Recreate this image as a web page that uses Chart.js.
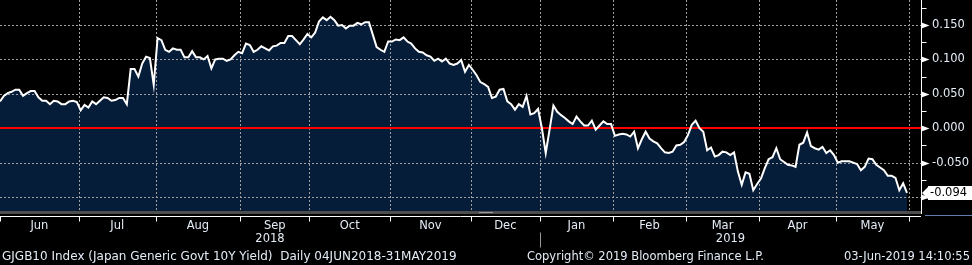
<!DOCTYPE html>
<html lang="en">
<head>
  <meta charset="UTF-8" />
  <title>GJGB10 Index - Japan Generic Govt 10Y Yield</title>
  <script src="https://cdn.jsdelivr.net/npm/chart.js"></script>
  <style>
    html, body { margin: 0; padding: 0; background: #000; }
    canvas { display: block; }
  </style>
</head>
<body>

<canvas id="yieldChart" width="972" height="265"></canvas>

<script>
// month labels along the bottom, one array of daily closes per month
const monthLabels = ['Jun', 'Jul', 'Aug', 'Sep', 'Oct', 'Nov', 'Dec', 'Jan', 'Feb', 'Mar', 'Apr', 'May'];
const yearLabels = ['2018', '2019'];
const yearFirstMonth = [0, 7];

const jun18 = [0.039, 0.047, 0.051, 0.053, 0.056, 0.056, 0.047, 0.051, 0.054, 0.054, 0.045, 0.040, 0.040, 0.035, 0.040, 0.039, 0.035, 0.035, 0.039, 0.040, 0.038];
const jul18 = [0.026, 0.034, 0.030, 0.039, 0.035, 0.040, 0.045, 0.044, 0.040, 0.041, 0.044, 0.044, 0.035, 0.086, 0.086, 0.075, 0.094, 0.104, 0.102, 0.063];
const aug18 = [0.131, 0.128, 0.114, 0.111, 0.116, 0.114, 0.114, 0.103, 0.103, 0.112, 0.103, 0.103, 0.100, 0.105, 0.087, 0.100, 0.101, 0.101, 0.098, 0.100, 0.106, 0.111];
const sep18 = [0.109, 0.123, 0.121, 0.111, 0.114, 0.119, 0.116, 0.113, 0.119, 0.120, 0.124, 0.124, 0.134, 0.134, 0.128, 0.122, 0.129, 0.137];
const oct18 = [0.132, 0.139, 0.155, 0.161, 0.157, 0.162, 0.157, 0.149, 0.150, 0.145, 0.149, 0.149, 0.153, 0.151, 0.154, 0.154, 0.136, 0.118, 0.114, 0.111, 0.126];
const nov18 = [0.126, 0.129, 0.128, 0.132, 0.126, 0.123, 0.116, 0.111, 0.110, 0.106, 0.104, 0.098, 0.101, 0.097, 0.101, 0.094, 0.092, 0.094, 0.099, 0.082, 0.092];
const dec18 = [0.085, 0.077, 0.067, 0.064, 0.060, 0.044, 0.046, 0.056, 0.057, 0.039, 0.035, 0.027, 0.035, 0.031, 0.047, 0.020, 0.022, 0.028];
const jan19 = [0.000, -0.036, -0.002, 0.033, 0.024, 0.019, 0.015, 0.010, 0.006, 0.017, 0.010, 0.004, 0.004, 0.011, -0.002, 0.004, 0.010, 0.006, 0.006];
const feb19 = [-0.011, -0.009, -0.008, -0.009, -0.012, -0.005, -0.029, -0.016, -0.005, -0.015, -0.019, -0.022, -0.029, -0.035, -0.036, -0.034, -0.025, -0.024, -0.020];
const mar19 = [-0.010, 0.005, 0.011, 0.000, -0.005, -0.032, -0.028, -0.041, -0.039, -0.034, -0.035, -0.039, -0.035, -0.063, -0.082, -0.064, -0.066, -0.090, -0.081];
const apr19 = [-0.073, -0.058, -0.045, -0.042, -0.029, -0.045, -0.049, -0.053, -0.054, -0.056, -0.024, -0.021, -0.006, -0.026, -0.029, -0.031, -0.027, -0.036, -0.032, -0.039];
const may19 = [-0.050, -0.048, -0.048, -0.048, -0.050, -0.052, -0.061, -0.056, -0.044, -0.045, -0.053, -0.057, -0.061, -0.069, -0.069, -0.072, -0.090, -0.080, -0.094];

const yTicks = [-0.1, -0.05, 0, 0.05, 0.1, 0.15];
const yMinorTicks = [-0.075, -0.025, 0.025, 0.075, 0.125, 0.175];

const footerLeft = 'GJGB10 Index (Japan Generic Govt 10Y Yield)  Daily 04JUN2018-31MAY2019';
const footerMid = 'Copyright\u00A9 2019 Bloomberg Finance L.P.';
const footerRight = '03-Jun-2019 14:10:55';

const monthData = [jun18, jul18, aug18, sep18, oct18, nov18, dec18, jan19, feb19, mar19, apr19, may19];
const yields = monthData.flat();
const lastYield = yields[yields.length - 1];

// trading-day index where each month starts / ends (grid line between days)
const boundaries = [-0.5];
monthData.forEach(m => boundaries.push(boundaries[boundaries.length - 1] + m.length));

const FONT = '"DejaVu Sans", Verdana, sans-serif';
const TEXT = '#e4ecf6';
const GRID = '#a0a0a0';

function line(ctx, x1, y1, x2, y2) {
  ctx.beginPath();
  ctx.moveTo(x1, y1);
  ctx.lineTo(x2, y2);
  ctx.stroke();
}

// dotted grid drawn as 2px-on / 2px-off pixels
function dotsH(ctx, x1, x2, py) {
  for (let px = x1; px < x2; px += 4) ctx.fillRect(px, py, 2, 1);
}
function dotsV(ctx, px, y1, y2) {
  for (let py = y1; py < y2; py += 4) ctx.fillRect(px, py, 1, 2);
}

const bloombergDecor = {
  id: 'bloombergDecor',
  beforeDraw(chart) {
    const { ctx, width, height } = chart;
    ctx.save();
    ctx.fillStyle = '#000';
    ctx.fillRect(0, 0, width, height);
    ctx.restore();
  },
  beforeDatasetsDraw(chart) {
    const { ctx, chartArea: a, scales: { x, y } } = chart;
    ctx.save();
    ctx.fillStyle = GRID;
    yTicks.forEach(v => {
      if (v === 0) return;
      dotsH(ctx, Math.round(a.left), Math.round(a.right), Math.round(y.getPixelForValue(v)));
    });
    boundaries.forEach(b => {
      const px = Math.round(x.getPixelForValue(b));
      if (px <= a.left + 2 || px >= a.right - 2) return;
      dotsV(ctx, px, Math.round(a.top), Math.round(a.bottom));
    });
    ctx.strokeStyle = '#ff0000';
    ctx.lineWidth = 2;
    const z = Math.round(y.getPixelForValue(0));
    line(ctx, a.left, z, a.right, z);
    ctx.restore();
  },
  afterDraw(chart) {
    const { ctx, chartArea: a, scales: { x, y } } = chart;
    ctx.save();

    // scroll bar + x axis line
    ctx.fillStyle = '#4d4d4d';
    ctx.fillRect(a.left, a.bottom, a.right - a.left, 3);
    ctx.fillStyle = '#9a9a9a';
    ctx.fillRect(479, a.bottom + 1, 14, 1);
    ctx.strokeStyle = '#ffffff';
    ctx.lineWidth = 1;
    const axisY = a.bottom + 5.5;
    line(ctx, a.left, axisY, a.right, axisY);
    ctx.strokeStyle = '#5f7fae';
    line(ctx, a.right + 4, axisY - 1, chart.width, axisY - 1);

    // month ticks and labels
    ctx.strokeStyle = '#ffffff';
    boundaries.forEach(b => {
      const px = Math.max(a.left + 0.5, Math.round(x.getPixelForValue(b)) + 0.5);
      line(ctx, px, axisY, px, axisY + 5);
    });
    const janPx = Math.round(x.getPixelForValue(boundaries[yearFirstMonth[1]])) + 0.5;
    ctx.strokeStyle = '#9a9a9a';
    line(ctx, janPx, axisY + 16, janPx, axisY + 31);

    ctx.fillStyle = TEXT;
    ctx.font = '11.5px ' + FONT;
    ctx.textAlign = 'center';
    ctx.textBaseline = 'middle';
    monthLabels.forEach((m, i) => {
      const l = Math.max(a.left, x.getPixelForValue(boundaries[i]));
      const r = x.getPixelForValue(boundaries[i + 1]);
      ctx.fillText(m, (l + r) / 2, 226);
    });
    yearLabels.forEach((t, i) => {
      const l = i === 0 ? a.left : x.getPixelForValue(boundaries[yearFirstMonth[i]]);
      const r = i + 1 < yearLabels.length ? x.getPixelForValue(boundaries[yearFirstMonth[i + 1]]) : a.right;
      ctx.fillText(t, (l + r) / 2, 239);
    });

    // footer
    ctx.textAlign = 'left';
    ctx.fillText(footerMid, 527, 257);
    ctx.textAlign = 'right';
    ctx.fillText(footerRight, 970, 257);
    ctx.textAlign = 'left';
    ctx.font = '12px ' + FONT;
    ctx.fillText(footerLeft, 2, 257);

    // y axis line, major markers, minor ticks
    ctx.strokeStyle = '#ffffff';
    const axX = a.right + 0.5;
    line(ctx, axX, a.top, axX, a.bottom + 3);
    ctx.fillStyle = '#ffffff';
    yTicks.forEach(v => {
      const py = Math.round(y.getPixelForValue(v)) + 0.5;
      ctx.beginPath();
      ctx.moveTo(axX, py - 3);
      ctx.lineTo(axX + 8, py);
      ctx.lineTo(axX, py + 3);
      ctx.closePath();
      ctx.fill();
    });
    yMinorTicks.forEach(v => {
      const py = Math.round(y.getPixelForValue(v)) + 0.5;
      if (py < a.top || py > a.bottom) return;
      line(ctx, axX, py, axX + 5, py);
    });

    // last value tag
    const ly = Math.round(y.getPixelForValue(lastYield));
    ctx.fillStyle = '#ffffff';
    ctx.fillRect(a.right + 7, ly - 7, chart.width - a.right - 7, 14);
    ctx.beginPath();
    ctx.moveTo(a.right + 1, ly);
    ctx.lineTo(a.right + 7, ly - 6);
    ctx.lineTo(a.right + 7, ly + 6);
    ctx.closePath();
    ctx.fill();
    ctx.fillStyle = '#000000';
    ctx.textAlign = 'left';
    ctx.font = '11.5px ' + FONT;
    ctx.fillText(lastYield.toFixed(3), a.right + 9, ly + 0.5);

    ctx.restore();
  }
};

const yieldCtx = document.getElementById('yieldChart').getContext('2d');
const yieldChart = new Chart(yieldCtx, {
  type: 'line',
  data: {
    datasets: [{
      label: 'GJGB10',
      data: yields.map((v, i) => ({ x: i, y: v })),
      borderColor: '#ffffff',
      borderWidth: 2,
      backgroundColor: '#061d3a',
      fill: 'start',
      pointRadius: 0,
      tension: 0
    }]
  },
  options: {
    responsive: false,
    animation: false,
    devicePixelRatio: 1,
    layout: { padding: { top: 0, left: 0, right: 0, bottom: 54 } },
    scales: {
      x: {
        type: 'linear',
        display: false,
        min: 0,
        max: (yields.length - 1) * 921 / 907
      },
      y: {
        type: 'linear',
        position: 'right',
        min: -0.1202,
        max: 0.1863,
        afterBuildTicks: s => { s.ticks = yTicks.map(v => ({ value: v })); },
        afterFit: s => { s.width = 51; s.paddingTop = 0; s.paddingBottom = 0; },
        grid: { display: false },
        border: { display: false },
        ticks: {
          color: TEXT,
          padding: 3,
          font: { family: FONT, size: 11.5 },
          callback: v => (Math.abs(v - lastYield) < 0.012 ? '' : v.toFixed(3))
        }
      }
    },
    plugins: {
      legend: { display: false },
      tooltip: { enabled: false },
      filler: { drawTime: 'beforeDatasetsDraw' }
    }
  },
  plugins: [bloombergDecor]
});
</script>
</body>
</html>
